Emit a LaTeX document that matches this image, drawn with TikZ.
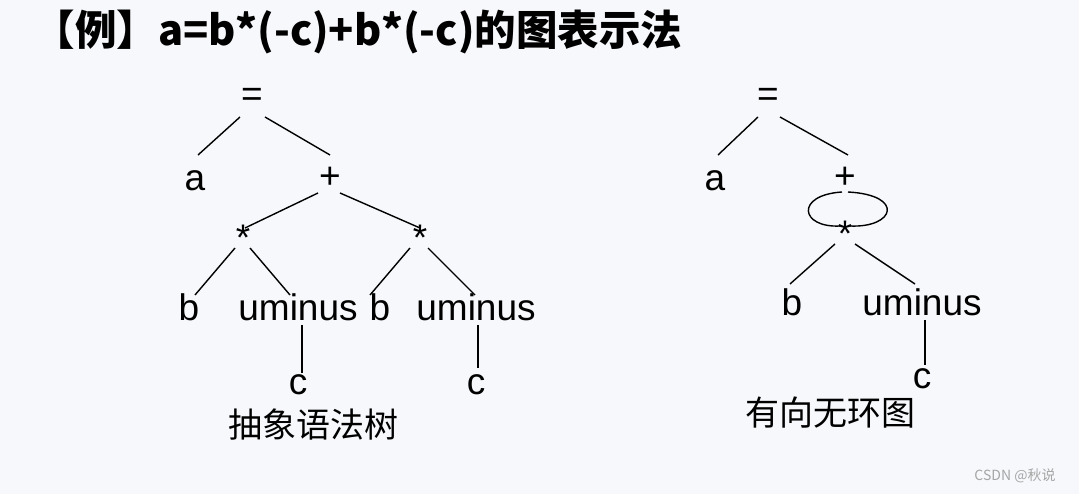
\documentclass[tikz,border=0pt]{standalone}
\usepackage{fontspec}
\usetikzlibrary{calc}
\setmainfont{Liberation Sans}
\newfontfamily\cjk{Noto Sans CJK SC}
\begin{document}
\begin{tikzpicture}[x=1pt,y=-1pt,
  t/.style={font=\fontsize{37}{39}\selectfont,inner sep=3pt},
  e/.style={line width=1.4pt}]
\useasboundingbox[fill={rgb,255:red,246;green,248;blue,251}] (0,0) rectangle (1079,494);
\node[font=\cjk\bfseries\fontsize{41.5}{44}\selectfont,anchor=west] (title) at (30,32) {【例】a=b*(-c)+b*(-c)的图表示法};
% tree 1
\node[t] (eq1) at (252,97) {=};
\node[t] (a1) at (195,181) {a};
\node[t] (p1) at (330,178) {+};
\node[t] (s1) at (243,238) {*};
\node[t] (s2) at (420,238) {*};
\node[t] (b1) at (189,307) {b};
\node[t] (u1) at (298,307) {uminus};
\node[t] (b2) at (380,307) {b};
\node[t] (u2) at (476,307) {uminus};
\node[t] (c1) at (298,385) {c};
\node[t] (c2) at (476,385) {c};
\node[font=\cjk\fontsize{34}{36}\selectfont] (l1) at (313,425) {抽象语法树};
\draw[e] ($(eq1)+(-12,20)$) -- ($(a1)+(3,-26)$);
\draw[e] ($(eq1)+(13,20)$) -- ($(p1)+(0,-23)$);
\draw[e] ($(p1)+(-12,15)$) -- ($(s1)+(2,-10)$);
\draw[e] ($(p1)+(10,15)$) -- ($(s2)+(0,-10)$);
\draw[e] ($(s1)+(-8,10)$) -- ($(b1)+(6,-12)$);
\draw[e] ($(s1)+(7,10)$) -- ($(u1)+(-8,-12)$);
\draw[e] ($(s2)+(-10,10)$) -- ($(b2)+(-10,-12)$);
\draw[e] ($(s2)+(8,10)$) -- ($(u2)+(-1,-12)$);
\draw[e] ($(u1)+(4,18)$) -- ($(c1)+(4,-12)$);
\draw[e] ($(u2)+(2,18)$) -- ($(c2)+(2,-17)$);
% dag
\node[t] (eq2) at (768,97) {=};
\node[t] (a2) at (715,181) {a};
\node[t] (p2) at (845,178) {+};
\node[t] (s3) at (845,234) {*};
\node[t] (b3) at (792,302) {b};
\node[t] (u3) at (922,302) {uminus};
\node[t] (c3) at (922,379) {c};
\node[font=\cjk\fontsize{34}{36}\selectfont] (l2) at (830,413) {有向无环图};
\draw[e] ($(eq2)+(-10,20)$) -- ($(a2)+(3,-26)$);
\draw[e] ($(eq2)+(12,20)$) -- ($(p2)+(3,-23)$);
\draw[e] ($(p2)+(-3,14)$) .. controls (795,195) and (800,228) .. ($(s3)+(-5,-8)$);
\draw[e] ($(p2)+(3,14)$) .. controls (905,195) and (895,228) .. ($(s3)+(5,-8)$);
\draw[e] ($(s3)+(-10,10)$) -- ($(b3)+(-2,-18)$);
\draw[e] ($(s3)+(10,10)$) -- ($(u3)+(-7,-18)$);
\draw[e] ($(u3)+(3,18)$) -- ($(c3)+(3,-14)$);
\node[font=\cjk\fontsize{14}{16}\selectfont,text=gray!70] (wm) at (1015,476) {CSDN @秋说};
\end{tikzpicture}
\end{document}
